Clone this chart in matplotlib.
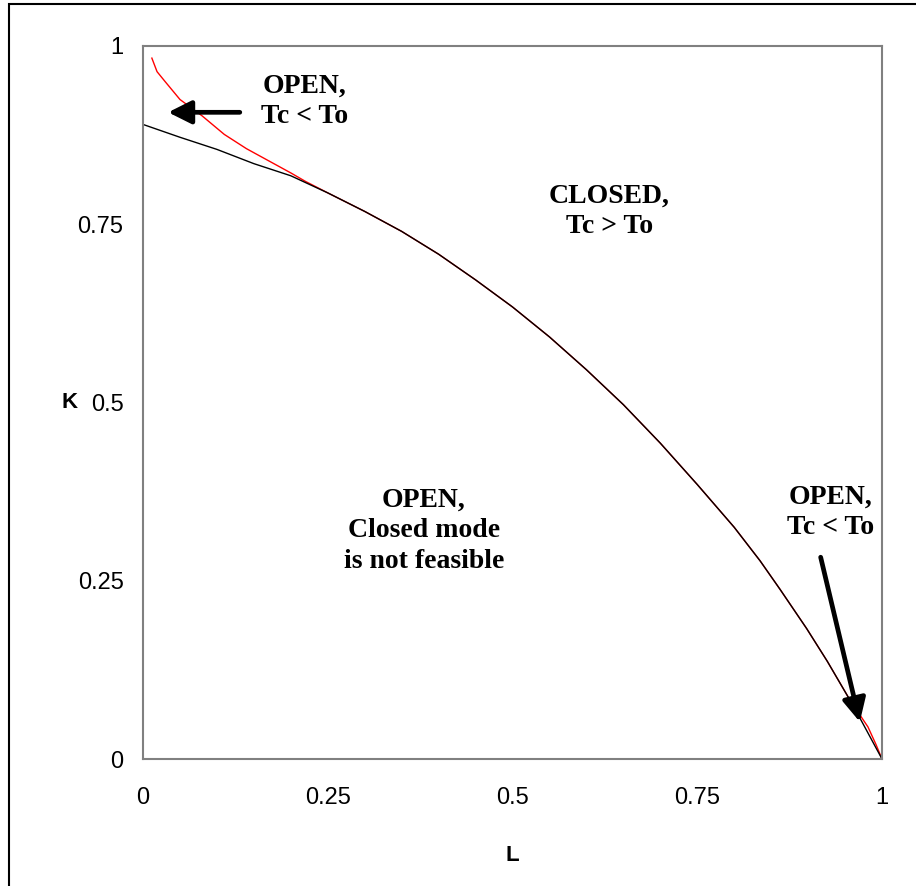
import numpy as np
import matplotlib.pyplot as plt
from matplotlib.patches import Rectangle

# boundary curve (black) and the Tc = To curve (red)
L_black = [0.0, 0.05, 0.10, 0.15, 0.20, 0.25, 0.30, 0.35, 0.40, 0.45, 0.50, 0.55,
           0.60, 0.65, 0.70, 0.75, 0.80, 0.835, 0.862, 0.898, 0.926, 0.957, 0.974, 1.0]
K_black = [0.89, 0.872, 0.855, 0.835, 0.818, 0.794, 0.768, 0.740, 0.708, 0.672, 0.634, 0.592,
           0.546, 0.497, 0.443, 0.385, 0.325, 0.278, 0.238, 0.183, 0.137, 0.082, 0.05, 0.0]

L_red = [0.012, 0.019, 0.03, 0.05, 0.08, 0.11, 0.14, 0.17, 0.20, 0.22, 0.25, 0.30, 0.35, 0.40,
         0.45, 0.50, 0.55, 0.60, 0.65, 0.70, 0.75, 0.80, 0.835, 0.862, 0.898, 0.926, 0.957,
         0.968, 0.981, 0.992, 1.0]
K_red = [0.983, 0.964, 0.950, 0.925, 0.902, 0.876, 0.856, 0.839, 0.822, 0.810, 0.794, 0.768,
         0.740, 0.708, 0.672, 0.634, 0.592, 0.546, 0.497, 0.443, 0.385, 0.325, 0.278, 0.238,
         0.183, 0.137, 0.082, 0.065, 0.045, 0.02, 0.0]

ticks = [0, 0.25, 0.5, 0.75, 1]
tick_labels = ["0", "0.25", "0.5", "0.75", "1"]

fig = plt.figure(figsize=(9.16, 8.86), dpi=100)
ax = fig.add_axes([143 / 916, 1 - 759 / 886, 739 / 916, 713 / 886])

# outer chart border (cut off at right and bottom)
fig.patches.append(Rectangle((9 / 916, -0.1), 1.2, 1 - 4 / 886 + 0.1, transform=fig.transFigure,
                             fill=False, edgecolor="black", lw=1.5))

ax.plot(L_red, K_red, color="red", lw=1.0)
ax.plot(L_black, K_black, color="black", lw=1.0)

ax.set_xlim(0, 1)
ax.set_ylim(0, 1)
ax.set_xticks(ticks)
ax.set_xticklabels(tick_labels)
ax.set_yticks(ticks)
ax.set_yticklabels(tick_labels)
ax.tick_params(length=0, labelsize=17)
ax.tick_params(axis="x", pad=20)
ax.tick_params(axis="y", pad=14)
for lab in ax.get_xticklabels() + ax.get_yticklabels():
    lab.set_family("Liberation Sans")
for s in ax.spines.values():
    s.set_color("#808080")
    s.set_linewidth(1.5)

ax.set_xlabel("L", family="Liberation Sans", fontweight="bold", fontsize=16)
ax.set_ylabel("K", family="Liberation Sans", fontweight="bold", fontsize=16, rotation=0,
              va="center", ha="center")
ax.xaxis.set_label_coords(0.5, -0.121)
ax.yaxis.set_label_coords(-0.100, 0.5)

tfont = dict(family="Liberation Serif", fontweight="bold", fontsize=20, ha="center",
             va="center", linespacing=1.3)
ax.text(0.219, 0.922, "OPEN,\nTc < To", **tfont)
ax.text(0.631, 0.768, "CLOSED,\nTc > To", **tfont)
ax.text(0.38, 0.32, "OPEN,\nClosed mode\nis not feasible", **tfont)
ax.text(0.93, 0.346, "OPEN,\nTc < To", **tfont)

aprops = dict(arrowstyle="-|>,head_length=0.7,head_width=0.35", lw=3.4, color="black",
              mutation_scale=20, shrinkA=0, shrinkB=0)
ax.annotate("", xy=(0.034, 0.907), xytext=(0.131, 0.907), arrowprops=aprops)
ax.annotate("", xy=(0.97, 0.052), xytext=(0.917, 0.283), arrowprops=aprops)

fig.savefig("out.png", dpi=100)
